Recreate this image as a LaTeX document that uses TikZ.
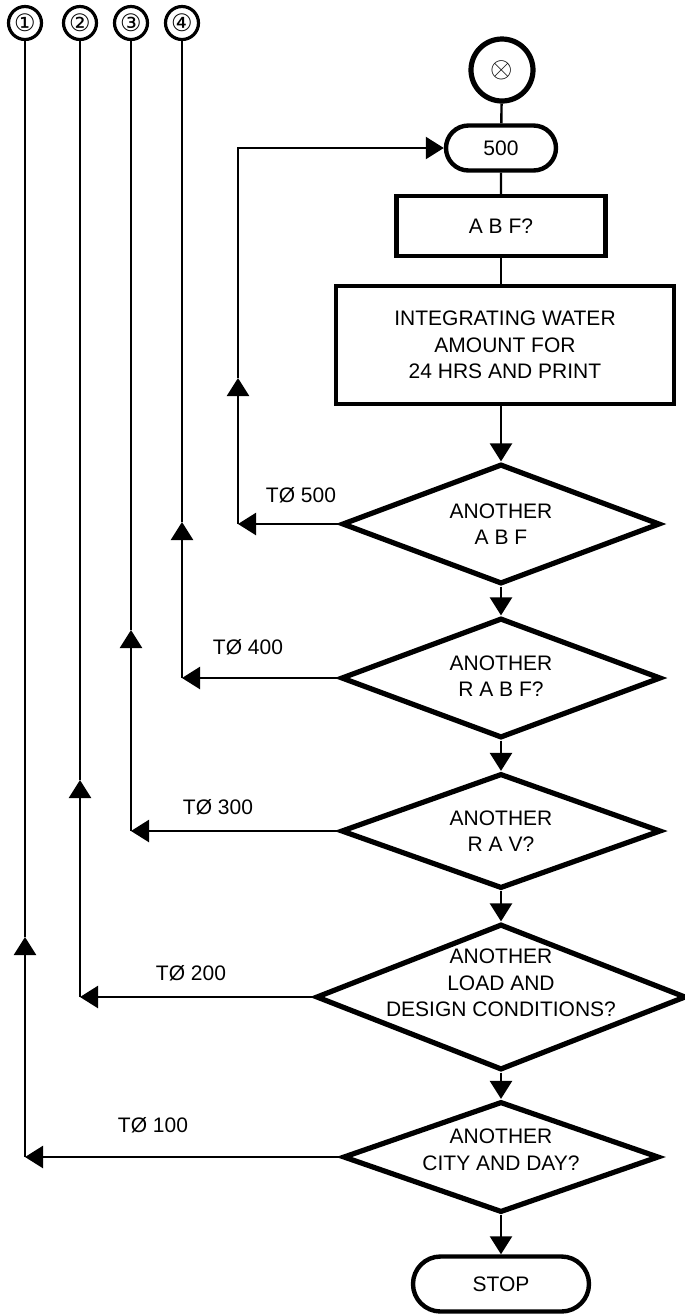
\documentclass[tikz,border=0pt]{standalone}
\usepackage{fontspec}
\setmainfont{Liberation Sans}
\newfontfamily\symfont{DejaVu Sans}
\usetikzlibrary{shapes, arrows.meta, positioning, calc}

\tikzset{
    txt/.style={font=\fontsize{10.5}{13.3}\selectfont, align=center},
    link/.style={line width=1.2pt},
    flow/.style={line width=1.2pt, -{Triangle[length=9pt,width=11pt]}},
    procbox/.style={draw, rectangle, line width=2.2pt, inner sep=0pt, txt},
    term/.style={draw, rounded rectangle, line width=2.2pt, inner sep=0pt, txt},
    decision/.style={draw, diamond, line width=2.6pt, inner sep=0pt},
    colnum/.style={draw, circle, line width=1.6pt, minimum size=16.5pt, inner sep=0pt,
        font=\symfont\fontsize{12}{12}\selectfont},
}

\begin{document}
\begin{tikzpicture}[x=0.5pt, y=-0.5pt]
    \useasboundingbox (0,0) rectangle (685,1314);

    % Entry connector and blocks
    \node[draw, circle, line width=2.6pt, minimum size=31pt, inner sep=0pt] (start) at (502,70)
        {\fontsize{14}{14}\selectfont$\otimes$};
    \node[term, minimum width=55pt, minimum height=22.5pt] (s500) at (501,148) {500};
    \node[procbox, minimum width=104.5pt, minimum height=30pt] (abf) at (501,226) {A B F?};
    \node[procbox, minimum width=169pt, minimum height=59pt] (integ) at (505,345)
        {INTEGRATING WATER\\AMOUNT FOR\\24 HRS AND PRINT};

    % Decisions
    \node[decision, minimum width=159pt, minimum height=60pt,
        label={[txt]center:ANOTHER\\A B F}] (d1) at (501,524) {};
    \node[decision, minimum width=160pt, minimum height=60pt,
        label={[txt, yshift=1pt]center:ANOTHER\\R A B F?}] (d2) at (501,678) {};
    \node[decision, minimum width=160pt, minimum height=57.5pt,
        label={[txt]center:ANOTHER\\R A V?}] (d3) at (501,831) {};
    \node[decision, minimum width=185pt, minimum height=73pt,
        label={[txt, yshift=7pt]center:ANOTHER\\LOAD AND\\DESIGN CONDITIONS?}] (d4) at (501,997) {};
    \node[decision, minimum width=158pt, minimum height=55.5pt,
        label={[txt, yshift=3.5pt]center:ANOTHER\\CITY AND DAY?}] (d5) at (501,1157) {};
    \node[term, minimum width=88pt, minimum height=27.5pt] (stop) at (501,1284) {STOP};

    % Main flow
    \draw[link] (start) -- (s500);
    \draw[link] (s500) -- (abf);
    \draw[link] (abf.south) -- (abf.south |- integ.north);
    \draw[flow] (integ.south -| d1) -- (d1.north);
    \draw[flow] (d1.south) -- (d2.north);
    \draw[flow] (d2.south) -- (d3.north);
    \draw[flow] (d3.south) -- (d4.north);
    \draw[flow] (d4.south) -- (d5.north);
    \draw[flow] (d5.south) -- (stop.north);

    % Loop back to 500
    \coordinate (top5) at (238,148);
    \coordinate (r5) at (d1.west -| top5);
    \coordinate (u5) at (238,378);
    \draw[flow] (d1.west) -- (r5);
    \draw[flow] (r5) -- (u5);
    \draw[flow] (u5) |- (s500.west);

    % Off-page connectors 1 to 4
    \foreach \i/\x/\g in {1/25/①, 2/80/②, 3/131/③, 4/182/④}
        \node[colnum] (n\i) at (\x,23) {\g};

    \foreach \i/\d/\u in {1/d5/937, 2/d4/780, 3/d3/630, 4/d2/522} {
        \coordinate (r\i) at (\d.west -| n\i);
        \coordinate (u\i) at ($(n\i)+(0,\u-23)$);
        \draw[flow] (\d.west) -- (r\i);
        \draw[flow] (r\i) -- (u\i);
        \draw[link] (u\i) -- (n\i);
    }

    % Return labels
    \node[txt] (t500) at (301,495) {TØ 500};
    \node[txt] (t400) at (248,647) {TØ 400};
    \node[txt] (t300) at (218,807) {TØ 300};
    \node[txt] (t200) at (191,973) {TØ 200};
    \node[txt] (t100) at (153,1125) {TØ 100};
\end{tikzpicture}
\end{document}
